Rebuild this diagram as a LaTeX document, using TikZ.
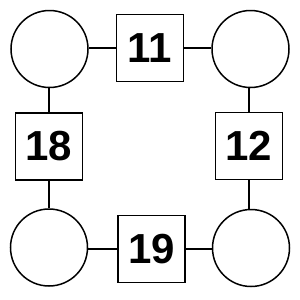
\documentclass[tikz,border=0pt]{standalone}
\usepackage{fontspec}
\setmainfont{Liberation Sans}
\begin{document}
\begin{tikzpicture}[x=1pt,y=-1pt,
  ring/.style={draw,line width=1.5pt,circle,minimum size=77pt,inner sep=0pt},
  numbox/.style={draw,line width=1.5pt,rectangle,minimum size=67pt,inner sep=0pt,font=\fontsize{42}{42}\selectfont\bfseries},
  link/.style={line width=1.5pt}]
\useasboundingbox (0,0) rectangle (300,300);
\node[ring] (c1) at (49.5,49) {};
\node[ring] (c2) at (250.5,49) {};
\node[ring] (c3) at (49,247.5) {};
\node[ring] (c4) at (251,248) {};
\node[numbox] (s1) at (150,48) {11};
\node[numbox] (s2) at (249,146) {12};
\node[numbox] (s3) at (151.5,249) {19};
\node[numbox] (s4) at (49,146.5) {18};
\draw[link] (c1.east |- s1.west) -- (s1.west);
\draw[link] (s1.east) -- (c2.west |- s1.east);
\draw[link] (c2.south -| s2.north) -- (s2.north);
\draw[link] (s2.south) -- (c4.north -| s2.south);
\draw[link] (c3.east |- s3.west) -- (s3.west);
\draw[link] (s3.east) -- (c4.west |- s3.east);
\draw[link] (c1.south -| s4.north) -- (s4.north);
\draw[link] (s4.south) -- (c3.north -| s4.south);
\end{tikzpicture}
\end{document}
